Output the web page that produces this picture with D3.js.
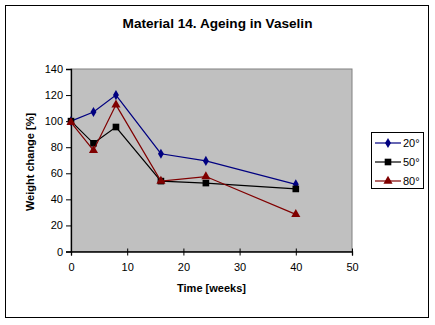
<!DOCTYPE html>
<html>
<head>
<meta charset="utf-8">
<script src="https://cdn.jsdelivr.net/npm/d3@7/dist/d3.min.js"></script>
<style>
  html, body { margin: 0; padding: 0; background: #fff; }
  svg { display: block; font-family: Arial, "Liberation Sans", sans-serif; }
</style>
</head>
<body>
<svg id="chart" width="435" height="325"></svg>
<script>
// Sampling times in weeks
const weeks = [0, 4, 8, 16, 24, 40];
// Weight change [%] per ageing temperature
const series20 = [100, 107, 120, 75, 69.5, 51.5];
const series50 = [100, 83, 95.5, 54, 52.5, 48];
const series80 = [99, 77.5, 112.5, 54, 57.5, 28.5];
const seriesNames = ["20°", "50°", "80°"];
const xTicks = [0, 10, 20, 30, 40, 50];
const yTicks = [0, 20, 40, 60, 80, 100, 120, 140];

const svg = d3.select("#chart");

// outer frame
svg.append("rect").attr("x", 5.5).attr("y", 5.5).attr("width", 423).attr("height", 312)
  .attr("fill", "#fff").attr("stroke", "#000").attr("stroke-width", 1);

const plot = { left: 71, right: 352, top: 69, bottom: 251.5 };
const x = d3.scaleLinear().domain([0, 50]).range([plot.left, plot.right]);
const y = d3.scaleLinear().domain([0, 140]).range([plot.bottom, plot.top]);

// plot area
svg.append("rect").attr("x", plot.left).attr("y", plot.top)
  .attr("width", plot.right - plot.left).attr("height", plot.bottom - plot.top)
  .attr("fill", "#c0c0c0").attr("stroke", "#808080").attr("stroke-width", 1);

// title
svg.append("text").attr("x", 217.5).attr("y", 28).attr("text-anchor", "middle")
  .attr("font-size", "13.6px").attr("font-weight", "bold").text("Material 14. Ageing in Vaselin");

// axes
const yAxis = d3.axisLeft(y).tickValues(yTicks).tickSize(5).tickPadding(3);
const gy = svg.append("g").attr("transform", `translate(${plot.left},0)`).call(yAxis);
const xAxis = d3.axisBottom(x).tickValues(xTicks).tickSize(4).tickPadding(8);
const gx = svg.append("g").attr("transform", `translate(0,${plot.bottom})`).call(xAxis);
[gx, gy].forEach(g => {
  g.select(".domain").attr("stroke", "#000").attr("stroke-width", 1.3);
  g.selectAll(".tick line").attr("stroke", "#000");
  g.selectAll(".tick text").attr("font-size", "11px").attr("fill", "#000")
    .attr("font-family", "Arial, 'Liberation Sans', sans-serif");
});
gx.selectAll(".tick line").attr("y1", -3);

// axis titles
svg.append("text").attr("x", 211.5).attr("y", 292).attr("text-anchor", "middle")
  .attr("font-size", "11px").attr("font-weight", "bold").text("Time [weeks]");
svg.append("text").attr("transform", "translate(34,162) rotate(-90)").attr("text-anchor", "middle")
  .attr("font-size", "11px").attr("font-weight", "bold").text("Weight change [%]");

const defs = [
  { name: seriesNames[0], values: series20, color: "#000080", symbol: d3.symbolDiamond, size: 30 },
  { name: seriesNames[1], values: series50, color: "#000000", symbol: d3.symbolSquare, size: 44 },
  { name: seriesNames[2], values: series80, color: "#800000", symbol: d3.symbolTriangle, size: 36 }
];

const line = d3.line().x(d => x(d[0])).y(d => y(d[1]));
defs.forEach(s => {
  const pts = weeks.map((w, i) => [w, s.values[i]]);
  svg.append("path").datum(pts).attr("d", line).attr("fill", "none")
    .attr("stroke", s.color).attr("stroke-width", 1.2);
  svg.append("g").selectAll("path").data(pts).join("path")
    .attr("transform", d => `translate(${x(d[0])},${y(d[1])})`)
    .attr("d", d3.symbol().type(s.symbol).size(s.size)).attr("fill", s.color);
});

// legend
const lg = svg.append("g");
lg.append("rect").attr("x", 371.5).attr("y", 132.5).attr("width", 52).attr("height", 56)
  .attr("fill", "#fff").attr("stroke", "#000");
defs.forEach((s, i) => {
  const ly = 143 + i * 19;
  lg.append("line").attr("x1", 375).attr("x2", 401).attr("y1", ly).attr("y2", ly)
    .attr("stroke", s.color).attr("stroke-width", 1.2);
  lg.append("path").attr("transform", `translate(388,${ly})`)
    .attr("d", d3.symbol().type(s.symbol).size(s.size)).attr("fill", s.color);
  lg.append("text").attr("x", 403).attr("y", ly + 4).attr("font-size", "11px").text(s.name);
});
</script>
</body>
</html>
